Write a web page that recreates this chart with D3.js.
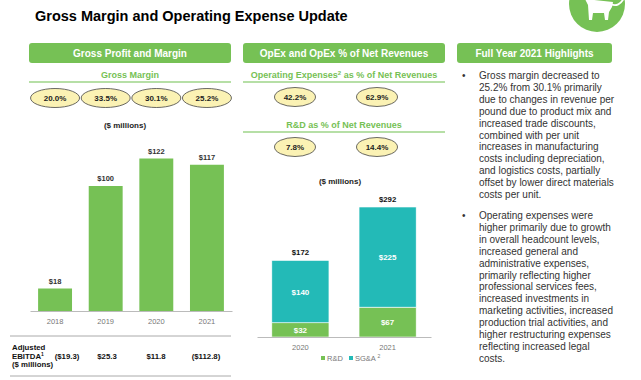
<!DOCTYPE html>
<html>
<head>
<meta charset="utf-8">
<script src="https://cdn.jsdelivr.net/npm/d3@7"></script>
<style>
  html, body { margin: 0; padding: 0; background: #fff; }
  svg { display: block; font-family: "Liberation Sans", Arial, sans-serif; }
</style>
</head>
<body>
<div id="canvas"></div>
<script>
// ---- data ----
var gpYears = ["2018", "2019", "2020", "2021"];
var grossProfit = [18, 100, 122, 117];
var grossMargin = ["20.0%", "33.5%", "30.1%", "25.2%"];
var ebitda = ["($19.3)", "$25.3", "$11.8", "($112.8)"];

var opexYears = ["2020", "2021"];
var rdValues = [32, 67];
var sgaValues = [140, 225];
var opexTotals = [172, 292];
var opexPct = ["42.2%", "62.9%"];
var rdPct = ["7.8%", "14.4%"];

var bullet1 = [
    "Gross margin decreased to",
    "25.2% from 30.1% primarily",
    "due to changes in revenue per",
    "pound due to product mix and",
    "increased trade discounts,",
    "combined with per unit",
    "increases in manufacturing",
    "costs including depreciation,",
    "and logistics costs, partially",
    "offset by lower direct materials",
    "costs per unit."
];
var bullet2 = [
    "Operating expenses were",
    "higher primarily due to growth",
    "in overall headcount levels,",
    "increased general and",
    "administrative expenses,",
    "primarily reflecting higher",
    "professional services fees,",
    "increased investments in",
    "marketing activities, increased",
    "production trial activities, and",
    "higher restructuring expenses",
    "reflecting increased legal",
    "costs."
];

// ---- styles ----
var GREEN = "#76c155";
var TEAL = "#23bab7";
var PALE_GREEN = "#9ed488";
var OVAL_FILL = "#fbf2b4";
var TEXT_DARK = "#222";

var W = 641, H = 380;
var svg = d3.select("#canvas").append("svg")
    .attr("width", W)
    .attr("height", H);

// title
svg.append("text")
    .attr("x", 35).attr("y", 21)
    .attr("font-size", "14.5px").attr("font-weight", "bold")
    .attr("fill", "#000")
    .text("Gross Margin and Operating Expense Update");

// logo (cropped circle with white animal)
var logo = svg.append("g");
logo.append("circle").attr("cx", 597).attr("cy", 4).attr("r", 28).attr("fill", GREEN);
logo.append("path")
    .attr("d", "M585,-1 L588,5 L589,20 L592,20 L593,13 L604,13 L605,20 L608,20 L609,12 L612,7 L613,2 Z")
    .attr("fill", "#fff");
logo.append("path")
    .attr("d", "M611,4 C616,7 621,4 624,-2")
    .attr("fill", "none").attr("stroke", "#fff").attr("stroke-width", 1.8);

// panel header helper
function header(x0, x1, label) {
    svg.append("rect")
        .attr("x", x0).attr("y", 43)
        .attr("width", x1 - x0).attr("height", 20)
        .attr("rx", 3)
        .attr("fill", GREEN);
    svg.append("text")
        .attr("x", (x0 + x1) / 2).attr("y", 56.5)
        .attr("text-anchor", "middle")
        .attr("font-size", "10px").attr("font-weight", "bold")
        .attr("fill", "#fff")
        .text(label);
}

function subTitle(x0, x1, y, label) {
    svg.append("text")
        .attr("x", (x0 + x1) / 2).attr("y", y)
        .attr("text-anchor", "middle")
        .attr("font-size", "9px").attr("font-weight", "bold")
        .attr("fill", GREEN)
        .text(label);
    svg.append("line")
        .attr("x1", x0).attr("x2", x1)
        .attr("y1", y + 4).attr("y2", y + 4)
        .attr("stroke", PALE_GREEN).attr("stroke-width", 1.5);
}

function ovals(centers, cy, rx, ry, labels) {
    var g = svg.append("g");
    g.selectAll("ellipse").data(labels).enter().append("ellipse")
        .attr("cx", function (d, i) { return centers[i]; })
        .attr("cy", cy).attr("rx", rx).attr("ry", ry)
        .attr("fill", OVAL_FILL).attr("stroke", "#444").attr("stroke-width", 0.8);
    g.selectAll("text").data(labels).enter().append("text")
        .attr("x", function (d, i) { return centers[i]; })
        .attr("y", cy + 3)
        .attr("text-anchor", "middle")
        .attr("font-size", "8px").attr("font-weight", "bold")
        .attr("fill", TEXT_DARK)
        .text(function (d) { return d; });
}

// ================= panel 1: Gross Profit and Margin =================
header(29, 231, "Gross Profit and Margin");
subTitle(29, 231, 78, "Gross Margin");

var x1 = d3.scaleBand().domain(gpYears).range([30, 232]).paddingInner(0.33).paddingOuter(0.16);
var y1 = d3.scaleLinear().domain([0, 100]).range([311, 186]);

ovals(gpYears.map(function (d) { return x1(d) + x1.bandwidth() / 2; }), 98, 24.5, 9.5, grossMargin);

svg.append("text")
    .attr("x", 125).attr("y", 128)
    .attr("text-anchor", "middle")
    .attr("font-size", "8px").attr("font-weight", "bold")
    .attr("fill", TEXT_DARK)
    .text("($ millions)");

var gp = gpYears.map(function (d, i) { return { year: d, value: grossProfit[i] }; });

svg.selectAll(".gpbar").data(gp).enter().append("rect")
    .attr("class", "gpbar")
    .attr("x", function (d) { return x1(d.year); })
    .attr("y", function (d) { return y1(d.value); })
    .attr("width", x1.bandwidth())
    .attr("height", function (d) { return y1(0) - y1(d.value); })
    .attr("fill", GREEN);

svg.selectAll(".gplabel").data(gp).enter().append("text")
    .attr("class", "gplabel")
    .attr("x", function (d) { return x1(d.year) + x1.bandwidth() / 2; })
    .attr("y", function (d) { return y1(d.value) - 5; })
    .attr("text-anchor", "middle")
    .attr("font-size", "7.5px").attr("font-weight", "bold")
    .attr("fill", "#333")
    .text(function (d) { return "$" + d.value; });

var ax1 = svg.append("g")
    .attr("transform", "translate(0," + y1(0) + ")")
    .call(d3.axisBottom(x1).tickSize(0).tickPadding(8));
ax1.select(".domain").attr("stroke", "#bbb").attr("stroke-width", 1.2);
ax1.selectAll("text").attr("font-size", "7.5px").attr("fill", "#777")
    .attr("font-family", "Liberation Sans, Arial, sans-serif");

// EBITDA table
svg.selectAll(".tline").data([336, 376]).enter().append("line")
    .attr("class", "tline")
    .attr("x1", 10).attr("x2", 231)
    .attr("y1", function (d) { return d; }).attr("y2", function (d) { return d; })
    .attr("stroke", "#aaa").attr("stroke-width", 1);

var lbl = svg.append("text")
    .attr("font-size", "7.8px").attr("font-weight", "bold").attr("fill", "#111");
lbl.append("tspan").attr("x", 12).attr("y", 350).text("Adjusted");
lbl.append("tspan").attr("x", 12).attr("y", 358.5).text("EBITDA");
lbl.append("tspan").attr("font-size", "5px").attr("dy", -3).text("1");
lbl.append("tspan").attr("x", 12).attr("y", 367).text("($ millions)");

var ebX = [67, 107, 156, 206];
svg.selectAll(".ebval").data(ebitda).enter().append("text")
    .attr("class", "ebval")
    .attr("x", function (d, i) { return ebX[i]; })
    .attr("y", 359)
    .attr("text-anchor", "middle")
    .attr("font-size", "7.8px").attr("font-weight", "bold")
    .attr("fill", "#111")
    .text(function (d) { return d; });

// ================= panel 2: OpEx =================
header(243, 445, "OpEx and OpEx % of Net Revenues");

var opSub = svg.append("text")
    .attr("x", 344).attr("y", 78)
    .attr("text-anchor", "middle")
    .attr("font-size", "9px").attr("font-weight", "bold")
    .attr("fill", GREEN);
opSub.append("tspan").text("Operating Expenses");
opSub.append("tspan").attr("font-size", "6px").attr("dy", -3).text("2");
opSub.append("tspan").attr("dy", 3).text(" as % of Net Revenues");
svg.append("line")
    .attr("x1", 243).attr("x2", 445).attr("y1", 82).attr("y2", 82)
    .attr("stroke", PALE_GREEN).attr("stroke-width", 1.5);

var x2 = d3.scaleBand().domain(opexYears).range([257, 431]).paddingInner(0.345).paddingOuter(0.17);
var y2 = d3.scaleLinear().domain([0, 292]).range([337, 207]);
var ovalX = d3.scalePoint().domain(opexYears).range([295, 377]);
var opCenters = opexYears.map(function (d) { return ovalX(d); });

ovals(opCenters, 97, 20.5, 9.5, opexPct);
subTitle(243, 445, 128, "R&D as % of Net Revenues");
ovals(opCenters, 147, 20.5, 9.5, rdPct);

svg.append("text")
    .attr("x", 340).attr("y", 184)
    .attr("text-anchor", "middle")
    .attr("font-size", "8px").attr("font-weight", "bold")
    .attr("fill", TEXT_DARK)
    .text("($ millions)");

// stacked bars
var opexRows = opexYears.map(function (d, i) {
    return { year: d, rd: rdValues[i], sga: sgaValues[i], total: opexTotals[i] };
});
var stack = d3.stack().keys(["rd", "sga"])(opexRows);
var stackColor = { rd: GREEN, sga: TEAL };

var layers = svg.selectAll(".layer").data(stack).enter().append("g")
    .attr("class", "layer")
    .attr("fill", function (d) { return stackColor[d.key]; });

layers.selectAll("rect").data(function (d) { return d; }).enter().append("rect")
    .attr("x", function (d) { return x2(d.data.year); })
    .attr("y", function (d) { return y2(d[1]); })
    .attr("width", x2.bandwidth())
    .attr("height", function (d) { return y2(d[0]) - y2(d[1]); })
    .attr("stroke", "#fff").attr("stroke-width", 0.6);

layers.selectAll("text").data(function (d) { return d; }).enter().append("text")
    .attr("x", function (d) { return x2(d.data.year) + x2.bandwidth() / 2; })
    .attr("y", function (d) { return (y2(d[0]) + y2(d[1])) / 2 + 3; })
    .attr("text-anchor", "middle")
    .attr("font-size", "8px").attr("font-weight", "bold")
    .attr("fill", "#fff")
    .text(function (d) { return "$" + (d[1] - d[0]); });

svg.selectAll(".total").data(opexRows).enter().append("text")
    .attr("class", "total")
    .attr("x", function (d) { return x2(d.year) + x2.bandwidth() / 2; })
    .attr("y", function (d) { return y2(d.total) - 5; })
    .attr("text-anchor", "middle")
    .attr("font-size", "7.8px").attr("font-weight", "bold")
    .attr("fill", "#111")
    .text(function (d) { return "$" + d.total; });

var ax2 = svg.append("g")
    .attr("transform", "translate(0," + y2(0) + ")")
    .call(d3.axisBottom(x2).tickSize(0).tickPadding(8));
ax2.select(".domain").attr("stroke", "#bbb").attr("stroke-width", 1.2);
ax2.selectAll("text").attr("font-size", "7.5px").attr("fill", "#777")
    .attr("font-family", "Liberation Sans, Arial, sans-serif");

// legend
var legend = svg.append("g");
legend.append("rect").attr("x", 321).attr("y", 356).attr("width", 4).attr("height", 4).attr("fill", GREEN);
legend.append("text").attr("x", 327).attr("y", 360.5)
    .attr("font-size", "7.5px").attr("fill", "#777").text("R&D");
legend.append("rect").attr("x", 349).attr("y", 356).attr("width", 4).attr("height", 4).attr("fill", TEAL);
var lt = legend.append("text").attr("x", 355).attr("y", 360.5)
    .attr("font-size", "7.5px").attr("fill", "#777");
lt.append("tspan").text("SG&A ");
lt.append("tspan").attr("font-size", "5px").attr("dy", -3).text("2");

// ================= panel 3: Highlights =================
header(457, 612, "Full Year 2021 Highlights");

function bulletBlock(lines, y0) {
    svg.append("text")
        .attr("x", 462).attr("y", y0)
        .attr("font-size", "10px").attr("fill", "#333")
        .text("\u2022");
    svg.append("g").selectAll("text").data(lines).enter().append("text")
        .attr("x", 479)
        .attr("y", function (d, i) { return y0 + i * 11.9; })
        .attr("font-size", "10px").attr("fill", "#333")
        .text(function (d) { return d; });
}
bulletBlock(bullet1, 79);
bulletBlock(bullet2, 219);
</script>
</body>
</html>
